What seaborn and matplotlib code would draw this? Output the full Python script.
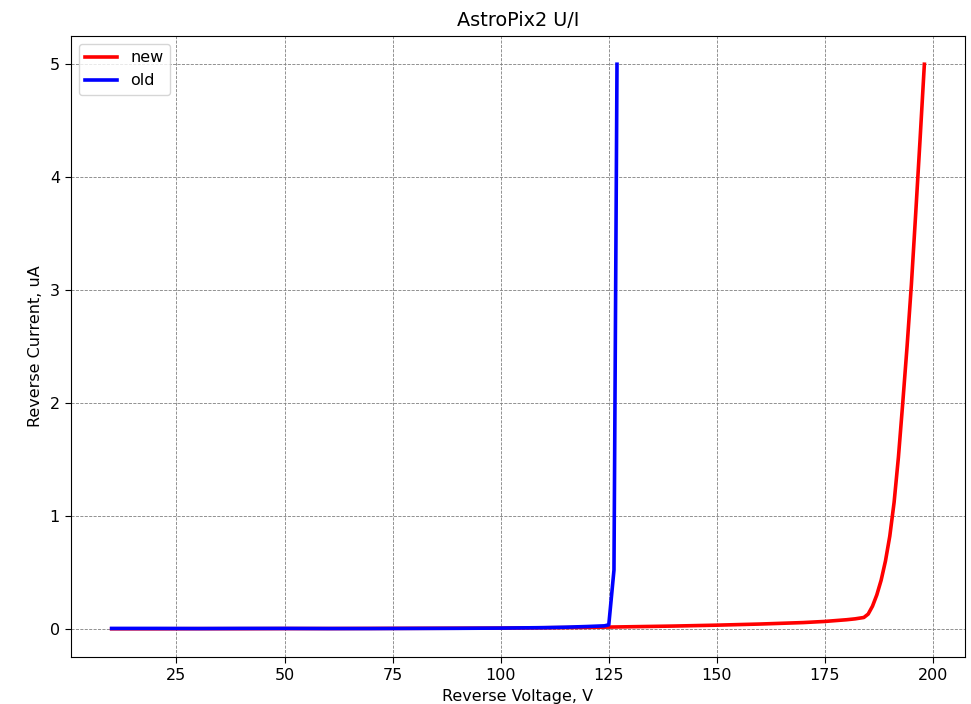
import matplotlib
matplotlib.use("Agg")
import matplotlib.pyplot as plt
import pandas as pd
import seaborn as sns

# reverse voltage (V) and reverse current (uA)
new_v = [10, 20, 30, 40, 50, 60, 70, 80, 90, 100, 110, 120, 130, 140, 150, 160, 170, 175, 180,
         182, 184, 185, 186, 187, 188, 189, 190, 191, 192, 193, 194, 195, 196, 197, 198]
new_i = [0.0, 0.0, 0.001, 0.001, 0.002, 0.002, 0.003, 0.004, 0.005, 0.006, 0.009, 0.012, 0.018,
         0.024, 0.032, 0.042, 0.055, 0.065, 0.08, 0.088, 0.10, 0.13, 0.20, 0.30, 0.43, 0.60, 0.82,
         1.12, 1.52, 2.0, 2.5, 3.05, 3.68, 4.33, 5.0]
old_v = [10, 20, 30, 40, 50, 60, 70, 80, 90, 100, 110, 115, 120, 124, 125, 126.2, 126.9]
old_i = [0.003, 0.003, 0.002, 0.003, 0.003, 0.002, 0.002, 0.003, 0.004, 0.006, 0.01, 0.014,
         0.02, 0.026, 0.035, 0.52, 5.0]

new_df = pd.DataFrame({"V": new_v, "I": new_i})
old_df = pd.DataFrame({"V": old_v, "I": old_i})

plt.rcParams["font.size"] = 11.5
plt.rcParams["xtick.major.size"] = 4.0
plt.rcParams["ytick.major.size"] = 4.0
plt.rcParams["xtick.major.pad"] = 4.0
plt.rcParams["ytick.major.pad"] = 4.0
plt.rcParams["axes.labelpad"] = 4.6

fig, ax = plt.subplots(figsize=(9.71, 7.04), dpi=100)
fig.subplots_adjust(left=71 / 971, right=965 / 971, top=1 - 36 / 704, bottom=1 - 657 / 704)

sns.lineplot(data=new_df, x="V", y="I", color="red", linewidth=2.6, label="new", ax=ax, sort=False)
sns.lineplot(data=old_df, x="V", y="I", color="blue", linewidth=2.6, label="old", ax=ax, sort=False)

ax.grid(True, color="gray", linestyle="--", linewidth=0.6)
ax.set_title("AstroPix2 U/I", fontsize=13.9, pad=7)
ax.set_xlabel("Reverse Voltage, V")
ax.set_ylabel("Reverse Current, uA")
ax.legend(loc="upper left")

fig.savefig("out.png", dpi=100)
